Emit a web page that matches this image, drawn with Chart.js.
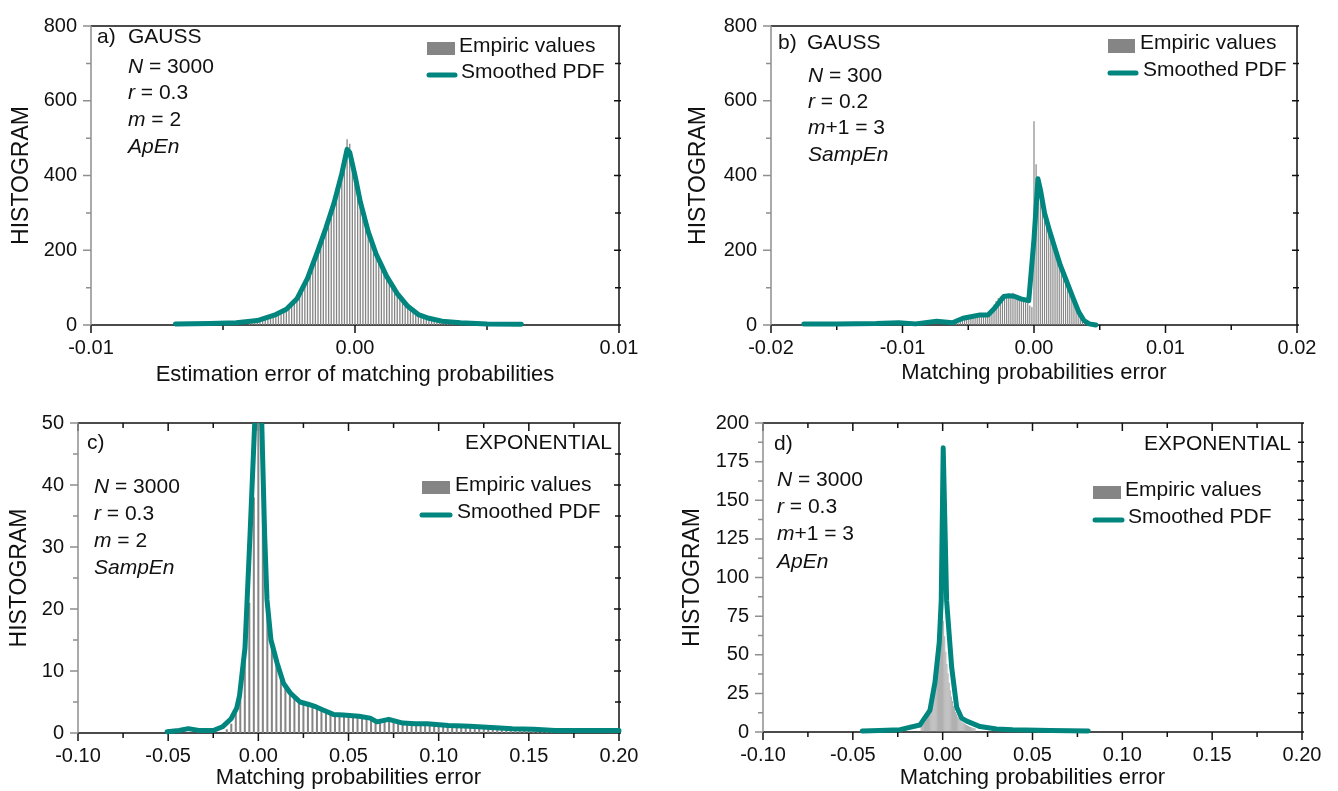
<!DOCTYPE html>
<html>
<head>
<meta charset="utf-8">
<script src="https://cdn.jsdelivr.net/npm/chart.js@4.4.1/dist/chart.umd.min.js"></script>
<style>
  body { margin: 0; background: #fff; width: 1338px; height: 791px; position: relative; overflow: hidden; }
  canvas { position: absolute; }
</style>
</head>
<body>
<canvas id="chartA" width="668" height="395" style="left:0;top:0"></canvas>
<canvas id="chartB" width="670" height="395" style="left:668px;top:0"></canvas>
<canvas id="chartC" width="668" height="396" style="left:0;top:395px"></canvas>
<canvas id="chartD" width="670" height="396" style="left:668px;top:395px"></canvas>
<script>
const FONT = '"Liberation Sans", Arial, Helvetica, sans-serif';
const TEAL = '#00857f';
const BAR_GRAY = '#858585';
const INK = '#111';

// ---- a) GAUSS, N = 3000, ApEn
const A_BIN_START = -0.0040;
const A_BIN_WIDTH = 0.0001;
const A_COUNTS = [5, 6, 7, 9, 11, 13, 15, 17, 20, 24, 28, 31, 34, 38, 42, 48, 54, 62, 70, 82,
  95, 108, 123, 142, 160, 180, 200, 220, 240, 258, 280, 302, 324, 350, 378, 405, 440, 497, 485, 440,
  400, 365, 330, 302, 275, 250, 228, 208, 190, 173, 158, 144, 130, 118, 106, 95, 84, 75, 66, 58,
  50, 44, 38, 33, 29, 26, 23, 20, 18, 16, 14, 12, 11, 10, 9, 8, 7, 6, 6, 5, 5];
const A_PDF_X = [-0.0068, -0.0055, -0.0045, -0.0037, -0.0030, -0.0026, -0.0022, -0.0018, -0.0014,
  -0.0011, -0.0008, -0.0005, -0.0003, -0.0002, 0.0000, 0.0002, 0.0005, 0.0008, 0.0012, 0.0016,
  0.0020, 0.0024, 0.0028, 0.0033, 0.0040, 0.0050, 0.0063];
const A_PDF_Y = [3, 4, 6, 12, 28, 42, 70, 125, 200, 260, 325, 405, 470, 462, 400, 330, 250, 190,
  130, 84, 50, 28, 18, 10, 6, 3, 2];
const A_X_MAJOR = [-0.01, 0, 0.01];
const A_X_MINOR = [-0.005, 0.005];
const A_Y_MAJOR = [0, 200, 400, 600, 800];
const A_Y_MINOR = [100, 300, 500, 700];

// ---- b) GAUSS, N = 300, SampEn
const B_BIN_START = -0.00624;
const B_BIN_WIDTH = 0.00016;
const B_COUNTS = [3, 4, 6, 5, 8, 12, 14, 17, 19, 20, 22, 24, 26, 27, 28, 27, 26, 30, 38, 45,
  55, 64, 72, 76, 78, 80, 77, 82, 75, 86, 79, 73, 70, 68, 64, 60, 58, 52, 48,
  545, 430, 380, 340, 305, 280, 262, 245, 228, 212, 196, 182, 165, 150, 136, 120, 106, 92, 80, 66,
  52, 40, 30, 21, 14, 8, 4, 2];
const B_PDF_X = [-0.0175, -0.0150, -0.0120, -0.0103, -0.0090, -0.0074, -0.0068, -0.0062, -0.0054,
  -0.0048, -0.0041, -0.0035, -0.0030, -0.0023, -0.0019, -0.0015, -0.0010, -0.0004, 0.0000, 0.0003,
  0.0005, 0.0008, 0.0012, 0.0016, 0.0020, 0.0025, 0.0030, 0.0034, 0.0038, 0.0042, 0.0047];
const B_PDF_Y = [3, 3, 4, 6, 3, 10, 8, 6, 18, 22, 27, 27, 45, 76, 78, 77, 70, 65, 230, 391,
  360, 300, 250, 205, 160, 115, 70, 35, 12, 3, 0];
const B_X_MAJOR = [-0.02, -0.01, 0, 0.01, 0.02];
const B_X_MINOR = [-0.015, -0.005, 0.005, 0.015];
const B_Y_MAJOR = [0, 200, 400, 600, 800];
const B_Y_MINOR = [100, 300, 500, 700];

// ---- c) EXPONENTIAL, N = 3000, SampEn
const C_BIN_START = -0.0175;
const C_BIN_WIDTH = 0.0025;
const C_COUNTS = [0.6, 1.5, 3.5, 7, 12.5, 21, 38, 62, 46, 22, 15, 11, 8.8, 7.5, 6.5, 5.8, 5.2, 4.9,
  4.6, 4.4, 4.1, 3.8, 3.6, 3.3, 3.0, 2.9, 2.9, 2.8, 2.8, 2.7, 2.6, 2.4, 2.2, 2.0, 2.1, 2.2, 2.1,
  1.9, 1.7, 1.6, 1.6, 1.5, 1.5, 1.5, 1.4, 1.4, 1.3, 1.3, 1.2, 1.2, 1.2, 1.1, 1.1, 1.1, 1.0, 1.0,
  1.0, 0.9, 0.9, 0.9, 0.8, 0.8, 0.7, 0.8, 0.7, 0.7, 0.6, 0.6, 0.6, 0.5, 0.5, 0.5, 0.4, 0.4, 0.4,
  0.4, 0.3, 0.3, 0.3, 0.3, 0.3, 0.3, 0.3, 0.3, 0.3, 0.3, 0.3, 0.3];
const C_PDF_X = [-0.0506, -0.0440, -0.0388, -0.0330, -0.0250, -0.0199, -0.0151, -0.0120, -0.0104,
  -0.0074, -0.0046, -0.0020, 0.0000, 0.0019, 0.0035, 0.0048, 0.0070, 0.0104, 0.0140, 0.0176,
  0.0231, 0.0280, 0.0321, 0.0359, 0.0416, 0.0470, 0.0558, 0.0620, 0.0658, 0.0723, 0.0802, 0.0870,
  0.0936, 0.1054, 0.1173, 0.1291, 0.1409, 0.1527, 0.1646, 0.1800, 0.2000];
const C_PDF_Y = [0.2, 0.4, 0.7, 0.4, 0.4, 1.0, 2.3, 4.0, 6.1, 13.7, 32, 50, 58, 50, 32, 21.5, 15,
  11.3, 8.0, 6.5, 5.0, 4.6, 4.2, 3.7, 3.0, 2.9, 2.7, 2.4, 1.8, 2.2, 1.6, 1.5, 1.5, 1.2, 1.1, 0.9,
  0.7, 0.6, 0.4, 0.4, 0.4];
const C_X_MAJOR = [-0.10, -0.05, 0, 0.05, 0.10, 0.15, 0.20];
const C_X_MINOR = [-0.075, -0.025, 0.025, 0.075, 0.125, 0.175];
const C_Y_MAJOR = [0, 10, 20, 30, 40, 50];
const C_Y_MINOR = [5, 15, 25, 35, 45];

// ---- d) EXPONENTIAL, N = 3000, ApEn
const D_BIN_START = -0.0120;
const D_BIN_WIDTH = 0.0006;
const D_COUNTS = [4, 4.5, 5, 6, 7, 8, 10, 11, 13, 15, 18, 21, 25, 29, 33, 38, 44, 50, 56, 62,
  80, 72, 62, 52, 44, 38, 32, 27, 23, 20, 17, 15, 13, 11.5, 10, 9, 8, 7.2, 6.5, 6, 5.5, 5, 4.6,
  4.2, 3.9, 3.6, 3.3, 3, 2.8, 2.6, 2.4];
const D_PDF_X = [-0.0447, -0.0350, -0.0237, -0.0127, -0.0071, -0.0043, -0.0019, -0.0008, 0.0003,
  0.0022, 0.0050, 0.0078, 0.0105, 0.0134, 0.0208, 0.0300, 0.0390, 0.0600, 0.0810];
const D_PDF_Y = [0.6, 0.9, 1.5, 4.5, 14, 32, 58, 85, 184, 85, 42, 16, 9, 7, 3.5, 2, 1.5, 1, 0.6];
const D_X_MAJOR = [-0.10, -0.05, 0, 0.05, 0.10, 0.15, 0.20];
const D_X_MINOR = [-0.075, -0.025, 0.025, 0.075, 0.125, 0.175];
const D_Y_MAJOR = [0, 25, 50, 75, 100, 125, 150, 175, 200];
const D_Y_MINOR = [12.5, 37.5, 62.5, 87.5, 112.5, 137.5, 162.5, 187.5];

const LEGEND_LABELS = ['Empiric values', 'Smoothed PDF'];

function binPoints(start, width, counts) {
  return counts.map((c, i) => ({ x: +(start + i * width).toFixed(6), y: c }));
}
function curvePoints(xs, ys) {
  return xs.map((x, i) => ({ x: x, y: ys[i] }));
}
function isMajor(list, v) {
  return list.some(m => Math.abs(m - v) < 1e-9);
}

// frame, tick marks, annotations and in-plot legend
const panelDecor = {
  id: 'panelDecor',
  beforeDatasetsDraw(chart, args, o) {
    const { ctx, chartArea: a, scales: { x, y } } = chart;
    ctx.save();
    ctx.lineWidth = 1.5;
    ctx.strokeStyle = INK;
    ctx.beginPath();
    [[o.xMajor, 8], [o.xMinor, 5]].forEach(([list, len]) => list.forEach(v => {
      const px = x.getPixelForValue(v);
      ctx.moveTo(px, a.bottom); ctx.lineTo(px, a.bottom + len);
      if (o.topTicks) { ctx.moveTo(px, a.top); ctx.lineTo(px, a.top + len); }
    }));
    [[o.yMajor, 5], [o.yMinor, 4]].forEach(([list, len]) => list.forEach(v => {
      const py = y.getPixelForValue(v);
      ctx.moveTo(a.right - len, py); ctx.lineTo(a.right + 2, py);
    }));
    ctx.moveTo(a.left, a.top); ctx.lineTo(a.right, a.top);
    ctx.lineTo(a.right, a.bottom); ctx.lineTo(a.left, a.bottom);
    ctx.stroke();
    // the left axis is grey in the original
    ctx.strokeStyle = '#8f8f8f';
    ctx.beginPath();
    ctx.moveTo(a.left, a.top); ctx.lineTo(a.left, a.bottom);
    [[o.yMajor, 8], [o.yMinor, 5]].forEach(([list, len]) => list.forEach(v => {
      const py = y.getPixelForValue(v);
      ctx.moveTo(a.left - len, py); ctx.lineTo(a.left, py);
    }));
    ctx.stroke();
    ctx.restore();
  },
  afterDraw(chart, args, o) {
    const ctx = chart.ctx;
    ctx.save();
    ctx.fillStyle = INK;
    ctx.textBaseline = 'middle';
    o.notes.forEach(n => {
      let x = n.x;
      if (n.align === 'right') {
        ctx.font = '21px ' + FONT;
        ctx.textAlign = 'right';
        ctx.fillText(n.runs[0][0], x, n.y);
        ctx.textAlign = 'left';
        return;
      }
      n.runs.forEach(([t, it]) => {
        ctx.font = (it ? 'italic ' : '') + '21px ' + FONT;
        ctx.fillText(t, x, n.y);
        x += ctx.measureText(t).width;
      });
    });
    // legend
    const L = o.legend;
    ctx.fillStyle = BAR_GRAY;
    ctx.fillRect(L.box[0], L.box[1], L.box[2] - L.box[0], L.box[3] - L.box[1]);
    ctx.strokeStyle = TEAL;
    ctx.lineWidth = 5;
    ctx.lineCap = 'round';
    ctx.beginPath();
    ctx.moveTo(L.line[0], L.line[2]); ctx.lineTo(L.line[1], L.line[2]);
    ctx.stroke();
    ctx.fillStyle = INK;
    ctx.font = '21px ' + FONT;
    ctx.fillText(LEGEND_LABELS[0], L.t1[0], L.t1[1]);
    ctx.fillText(LEGEND_LABELS[1], L.t2[0], L.t2[1]);
    ctx.restore();
  }
};

function makePanel(p) {
  const xTicks = p.xMajor.concat(p.xMinor).sort((m, n) => m - n);
  const yTicks = p.yMajor.concat(p.yMinor).sort((m, n) => m - n);
  return new Chart(document.getElementById(p.id), {
    type: 'bar',
    data: {
      datasets: [
        {
          type: 'line',
          label: LEGEND_LABELS[1],
          data: curvePoints(p.pdfX, p.pdfY),
          borderColor: TEAL,
          borderWidth: 5,
          pointRadius: 0,
          tension: 0,
          borderJoinStyle: 'round',
          borderCapStyle: 'round',
          fill: false,
          clip: { left: 6, right: 6, top: 0, bottom: 6 },
          order: 0
        },
        {
          type: 'bar',
          label: LEGEND_LABELS[0],
          data: binPoints(p.binStart, p.binWidth, p.counts),
          backgroundColor: BAR_GRAY,
          barPercentage: p.barPct,
          categoryPercentage: 1,
          grouped: false,
          order: 1
        }
      ]
    },
    options: {
      responsive: false,
      animation: false,
      devicePixelRatio: 1,
      layout: { padding: p.pad },
      plugins: {
        legend: { display: false },
        tooltip: { enabled: false },
        panelDecor: {
          xMajor: p.xMajor, xMinor: p.xMinor, yMajor: p.yMajor, yMinor: p.yMinor,
          topTicks: p.topTicks, notes: p.notes, legend: p.legend
        }
      },
      scales: {
        x: {
          type: 'linear', min: p.xMajor[0], max: p.xMajor[p.xMajor.length - 1], offset: false,
          grid: { display: false, drawTicks: false }, border: { display: false },
          afterBuildTicks: s => { s.ticks = xTicks.map(v => ({ value: v })); },
          afterFit: s => { s.height = p.xAxisH; },
          ticks: {
            autoSkip: false, maxRotation: 0, padding: 11, color: INK,
            font: { family: FONT, size: 20 },
            callback: v => isMajor(p.xMajor, v) ? v.toFixed(2) : ''
          },
          title: { display: true, text: p.xTitle, color: INK, font: { family: FONT, size: 22 },
                   padding: { top: 0, bottom: p.xTitlePad } }
        },
        y: {
          type: 'linear', min: p.yMajor[0], max: p.yMajor[p.yMajor.length - 1],
          grid: { display: false, drawTicks: false }, border: { display: false },
          afterBuildTicks: s => { s.ticks = yTicks.map(v => ({ value: v })); },
          afterFit: s => { s.width = p.yAxisW; },
          ticks: {
            autoSkip: false, padding: 14, color: INK,
            font: { family: FONT, size: 20 },
            callback: v => isMajor(p.yMajor, v) ? String(v) : ''
          },
          title: { display: true, text: 'HISTOGRAM', color: INK, font: { family: FONT, size: 23 },
                   padding: { top: p.yTitlePad, bottom: 0 } }
        }
      }
    },
    plugins: [panelDecor]
  });
}

const N = (t) => [[t, false]];

makePanel({
  id: 'chartA', binStart: A_BIN_START, binWidth: A_BIN_WIDTH, counts: A_COUNTS, barPct: 0.5,
  pdfX: A_PDF_X, pdfY: A_PDF_Y,
  xMajor: A_X_MAJOR, xMinor: A_X_MINOR, yMajor: A_Y_MAJOR, yMinor: A_Y_MINOR, topTicks: false,
  pad: { left: 0, right: 49, top: 23, bottom: 0 }, yAxisW: 91, xAxisH: 70,
  xTitle: 'Estimation error of matching probabilities', xTitlePad: 7, yTitlePad: 8,
  notes: [
    { x: 97, y: 37, runs: N('a)') }, { x: 128, y: 37, runs: N('GAUSS') },
    { x: 128, y: 67, runs: [['N', true], [' = 3000', false]] },
    { x: 128, y: 93, runs: [['r', true], [' = 0.3', false]] },
    { x: 128, y: 120, runs: [['m', true], [' = 2', false]] },
    { x: 128, y: 147, runs: [['ApEn', true]] }
  ],
  legend: { box: [427, 42, 455, 55], t1: [459, 46], line: [429, 455, 75], t2: [461, 72] }
});

makePanel({
  id: 'chartB', binStart: B_BIN_START, binWidth: B_BIN_WIDTH, counts: B_COUNTS, barPct: 0.55,
  pdfX: B_PDF_X, pdfY: B_PDF_Y,
  xMajor: B_X_MAJOR, xMinor: B_X_MINOR, yMajor: B_Y_MAJOR, yMinor: B_Y_MINOR, topTicks: false,
  pad: { left: 0, right: 41, top: 25, bottom: 0 }, yAxisW: 103, xAxisH: 70,
  xTitle: 'Matching probabilities error', xTitlePad: 9, yTitlePad: 17,
  notes: [
    { x: 110, y: 43, runs: N('b)') }, { x: 139, y: 43, runs: N('GAUSS') },
    { x: 140, y: 76, runs: [['N', true], [' = 300', false]] },
    { x: 140, y: 102, runs: [['r', true], [' = 0.2', false]] },
    { x: 140, y: 128, runs: [['m', true], ['+1 = 3', false]] },
    { x: 140, y: 155, runs: [['SampEn', true]] }
  ],
  legend: { box: [440, 39, 467, 53], t1: [472, 43], line: [442, 468, 73], t2: [475, 70] }
});

makePanel({
  id: 'chartC', binStart: C_BIN_START, binWidth: C_BIN_WIDTH, counts: C_COUNTS, barPct: 0.45,
  pdfX: C_PDF_X, pdfY: C_PDF_Y,
  xMajor: C_X_MAJOR, xMinor: C_X_MINOR, yMajor: C_Y_MAJOR, yMinor: C_Y_MINOR, topTicks: true,
  pad: { left: 0, right: 49, top: 28, bottom: 0 }, yAxisW: 78, xAxisH: 58,
  xTitle: 'Matching probabilities error', xTitlePad: 0, yTitlePad: 6,
  notes: [
    { x: 87, y: 48, runs: N('c)') },
    { x: 612, y: 48, runs: N('EXPONENTIAL'), align: 'right' },
    { x: 94, y: 92, runs: [['N', true], [' = 3000', false]] },
    { x: 94, y: 119, runs: [['r', true], [' = 0.3', false]] },
    { x: 94, y: 146, runs: [['m', true], [' = 2', false]] },
    { x: 94, y: 173, runs: [['SampEn', true]] }
  ],
  legend: { box: [422, 86, 450, 99], t1: [455, 90], line: [422, 450, 120], t2: [457, 117] }
});

makePanel({
  id: 'chartD', binStart: D_BIN_START, binWidth: D_BIN_WIDTH, counts: D_COUNTS, barPct: 0.6,
  pdfX: D_PDF_X, pdfY: D_PDF_Y,
  xMajor: D_X_MAJOR, xMinor: D_X_MINOR, yMajor: D_Y_MAJOR, yMinor: D_Y_MINOR, topTicks: true,
  pad: { left: 0, right: 36, top: 28, bottom: 0 }, yAxisW: 95, xAxisH: 59,
  xTitle: 'Matching probabilities error', xTitlePad: 0, yTitlePad: 11,
  notes: [
    { x: 106, y: 49, runs: N('d)') },
    { x: 623, y: 49, runs: N('EXPONENTIAL'), align: 'right' },
    { x: 109, y: 85, runs: [['N', true], [' = 3000', false]] },
    { x: 109, y: 112, runs: [['r', true], [' = 0.3', false]] },
    { x: 109, y: 139, runs: [['m', true], ['+1 = 3', false]] },
    { x: 109, y: 167, runs: [['ApEn', true]] }
  ],
  legend: { box: [425, 91, 453, 104], t1: [457, 95], line: [427, 454, 125], t2: [460, 122] }
});
</script>
</body>
</html>
